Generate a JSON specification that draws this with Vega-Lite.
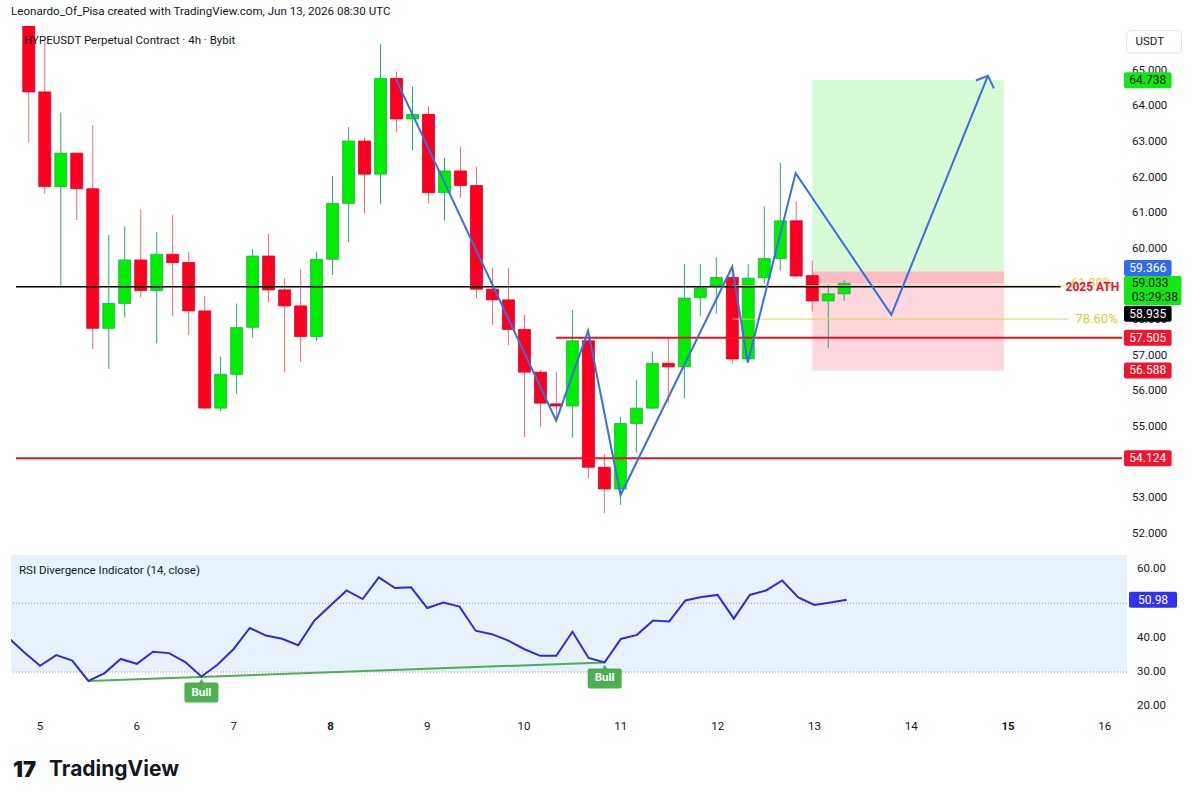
{
  "$schema": "https://vega.github.io/schema/vega-lite/v6.json",
  "background": "white",
  "padding": {"left": 10, "top": 6, "right": 0, "bottom": 0},
  "title": {"text": "Leonardo_Of_Pisa created with TradingView.com, Jun 13, 2026 08:30 UTC", "anchor": "start", "frame": "group", "fontSize": 11.6, "fontWeight": "normal", "color": "#131722", "font": "Roboto", "offset": 8},
  "config": {
    "view": {"stroke": null},
    "text": {"font": "Roboto"}
  },
  "spacing": 3,
  "bounds": "flush",
  "datasets": {
    "candles": [
      {"t": 4.833, "o": 66.6, "h": 66.9, "l": 63.0, "c": 64.41},
      {"t": 5.0, "o": 64.41, "h": 65.87, "l": 61.55, "c": 61.75},
      {"t": 5.167, "o": 61.75, "h": 63.83, "l": 58.9, "c": 62.69},
      {"t": 5.333, "o": 62.69, "h": 62.69, "l": 60.81, "c": 61.69},
      {"t": 5.5, "o": 61.69, "h": 63.48, "l": 57.19, "c": 57.77},
      {"t": 5.667, "o": 57.77, "h": 60.39, "l": 56.63, "c": 58.47},
      {"t": 5.833, "o": 58.47, "h": 60.63, "l": 58.07, "c": 59.69},
      {"t": 6.0, "o": 59.69, "h": 61.12, "l": 58.64, "c": 58.83},
      {"t": 6.167, "o": 58.83, "h": 60.47, "l": 57.35, "c": 59.85},
      {"t": 6.333, "o": 59.85, "h": 60.96, "l": 58.12, "c": 59.62},
      {"t": 6.5, "o": 59.62, "h": 59.92, "l": 57.58, "c": 58.26},
      {"t": 6.667, "o": 58.26, "h": 58.68, "l": 55.5, "c": 55.53},
      {"t": 6.833, "o": 55.53, "h": 56.97, "l": 55.43, "c": 56.48},
      {"t": 7.0, "o": 56.48, "h": 58.47, "l": 55.93, "c": 57.79},
      {"t": 7.167, "o": 57.8, "h": 59.99, "l": 57.51, "c": 59.8},
      {"t": 7.333, "o": 59.8, "h": 60.42, "l": 58.5, "c": 58.85},
      {"t": 7.5, "o": 58.85, "h": 59.18, "l": 56.54, "c": 58.4},
      {"t": 7.667, "o": 58.4, "h": 59.43, "l": 56.83, "c": 57.54},
      {"t": 7.833, "o": 57.54, "h": 59.92, "l": 57.42, "c": 59.71},
      {"t": 8.0, "o": 59.71, "h": 62.05, "l": 59.27, "c": 61.28},
      {"t": 8.167, "o": 61.28, "h": 63.42, "l": 60.19, "c": 63.03},
      {"t": 8.333, "o": 63.03, "h": 63.14, "l": 61.0, "c": 62.1},
      {"t": 8.5, "o": 62.1, "h": 65.76, "l": 61.26, "c": 64.79},
      {"t": 8.667, "o": 64.79, "h": 64.98, "l": 63.29, "c": 63.65},
      {"t": 8.833, "o": 63.65, "h": 64.56, "l": 62.76, "c": 63.78},
      {"t": 9.0, "o": 63.78, "h": 64.0, "l": 61.28, "c": 61.58},
      {"t": 9.167, "o": 61.58, "h": 62.55, "l": 60.8, "c": 62.19},
      {"t": 9.333, "o": 62.19, "h": 62.87, "l": 61.44, "c": 61.78},
      {"t": 9.5, "o": 61.78, "h": 62.31, "l": 58.62, "c": 58.87},
      {"t": 9.667, "o": 58.87, "h": 59.47, "l": 57.87, "c": 58.57},
      {"t": 9.833, "o": 58.57, "h": 59.46, "l": 57.3, "c": 57.74},
      {"t": 10.0, "o": 57.74, "h": 58.15, "l": 54.71, "c": 56.54},
      {"t": 10.167, "o": 56.54, "h": 56.6, "l": 55.01, "c": 55.67},
      {"t": 10.333, "o": 55.65, "h": 56.55, "l": 55.2, "c": 55.59},
      {"t": 10.5, "o": 55.59, "h": 58.29, "l": 54.71, "c": 57.42},
      {"t": 10.667, "o": 57.42, "h": 57.49, "l": 53.56, "c": 53.87},
      {"t": 10.833, "o": 53.87, "h": 54.24, "l": 52.58, "c": 53.26},
      {"t": 11.0, "o": 53.26, "h": 55.29, "l": 52.81, "c": 55.1},
      {"t": 11.167, "o": 55.1, "h": 56.32, "l": 54.28, "c": 55.53},
      {"t": 11.333, "o": 55.53, "h": 57.12, "l": 55.5, "c": 56.79},
      {"t": 11.5, "o": 56.79, "h": 57.51, "l": 55.68, "c": 56.69},
      {"t": 11.667, "o": 56.69, "h": 59.58, "l": 55.81, "c": 58.62},
      {"t": 11.833, "o": 58.63, "h": 59.58, "l": 58.12, "c": 58.9},
      {"t": 12.0, "o": 58.96, "h": 59.77, "l": 58.19, "c": 59.2},
      {"t": 12.167, "o": 59.2, "h": 59.46, "l": 56.77, "c": 56.91},
      {"t": 12.333, "o": 56.91, "h": 59.58, "l": 56.91, "c": 59.18},
      {"t": 12.5, "o": 59.19, "h": 61.19, "l": 59.02, "c": 59.73},
      {"t": 12.667, "o": 59.73, "h": 62.42, "l": 59.39, "c": 60.79},
      {"t": 12.833, "o": 60.79, "h": 61.33, "l": 59.22, "c": 59.24},
      {"t": 13.0, "o": 59.25, "h": 59.67, "l": 58.24, "c": 58.54},
      {"t": 13.167, "o": 58.54, "h": 59.01, "l": 57.21, "c": 58.74},
      {"t": 13.333, "o": 58.74, "h": 59.13, "l": 58.54, "c": 59.033}
    ],
    "rsi": [
      {"t": 4.667, "v": 40.1}, {"t": 4.833, "v": 35.8}, {"t": 5.0, "v": 31.8}, {"t": 5.167, "v": 34.9},
      {"t": 5.333, "v": 33.3}, {"t": 5.5, "v": 27.4}, {"t": 5.667, "v": 29.7}, {"t": 5.833, "v": 33.8},
      {"t": 6.0, "v": 32.4}, {"t": 6.167, "v": 35.9}, {"t": 6.333, "v": 35.5}, {"t": 6.5, "v": 32.9},
      {"t": 6.667, "v": 28.7}, {"t": 6.833, "v": 32.1}, {"t": 7.0, "v": 36.7}, {"t": 7.167, "v": 42.8},
      {"t": 7.333, "v": 40.6}, {"t": 7.5, "v": 39.65}, {"t": 7.667, "v": 37.8}, {"t": 7.833, "v": 44.9},
      {"t": 8.0, "v": 49.3}, {"t": 8.167, "v": 53.7}, {"t": 8.333, "v": 51.2}, {"t": 8.5, "v": 57.5},
      {"t": 8.667, "v": 54.4}, {"t": 8.833, "v": 54.6}, {"t": 9.0, "v": 48.6}, {"t": 9.167, "v": 50.2},
      {"t": 9.333, "v": 49.0}, {"t": 9.5, "v": 42.0}, {"t": 9.667, "v": 41.0}, {"t": 9.833, "v": 39.2},
      {"t": 10.0, "v": 36.7}, {"t": 10.167, "v": 34.7}, {"t": 10.333, "v": 34.7}, {"t": 10.5, "v": 41.7},
      {"t": 10.667, "v": 34.1}, {"t": 10.833, "v": 32.8}, {"t": 11.0, "v": 39.6}, {"t": 11.167, "v": 40.8},
      {"t": 11.333, "v": 45.0}, {"t": 11.5, "v": 44.7}, {"t": 11.667, "v": 50.8}, {"t": 11.833, "v": 51.8},
      {"t": 12.0, "v": 52.4}, {"t": 12.167, "v": 45.5}, {"t": 12.333, "v": 52.4}, {"t": 12.5, "v": 53.7},
      {"t": 12.667, "v": 56.6}, {"t": 12.833, "v": 51.7}, {"t": 13.0, "v": 49.5}, {"t": 13.167, "v": 50.2},
      {"t": 13.333, "v": 50.98}
    ],
    "zigzag": [
      {"i": 0, "t": 8.66, "p": 64.77}, {"i": 1, "t": 10.331, "p": 55.18}, {"i": 2, "t": 10.664, "p": 57.7},
      {"i": 3, "t": 11.002, "p": 53.09}, {"i": 4, "t": 12.166, "p": 59.5}, {"i": 5, "t": 12.328, "p": 56.81},
      {"i": 6, "t": 12.827, "p": 62.13}, {"i": 7, "t": 13.825, "p": 58.15}, {"i": 8, "t": 14.831, "p": 64.86}
    ],
    "arrow": [
      {"i": 0, "t": 14.706, "p": 64.73}, {"i": 1, "t": 14.831, "p": 64.86}, {"i": 2, "t": 14.894, "p": 64.51}
    ],
    "position": [
      {"t0": 13.0, "t1": 15.0, "target": 64.738, "entry": 59.366, "last": 59.033, "stop": 56.588}
    ],
    "levels": [
      {"kind": "fib", "p": 58.96, "from": 12.169, "to": 15.67},
      {"kind": "fib", "p": 58.03, "from": 12.169, "to": 15.67},
      {"kind": "black", "p": 58.935, "from": 4.7, "to": 15.589},
      {"kind": "red", "p": 57.505, "from": 10.331, "to": 16.229},
      {"kind": "red", "p": 54.124, "from": 4.7, "to": 16.229}
    ],
    "tags": [
      {"kind": "green", "p": 64.738, "label": "64.738"},
      {"kind": "blue", "p": 59.366, "label": "59.366"},
      {"kind": "live", "p": 59.033, "label": "59.033\n03:29:38"},
      {"kind": "black", "p": 58.935, "label": "58.935"},
      {"kind": "red", "p": 57.505, "label": "57.505"},
      {"kind": "red", "p": 56.588, "label": "56.588"},
      {"kind": "red", "p": 54.124, "label": "54.124"}
    ],
    "priceTicks": [
      {"p": 52}, {"p": 53}, {"p": 55}, {"p": 56}, {"p": 57}, {"p": 58},
      {"p": 60}, {"p": 61}, {"p": 62}, {"p": 63}, {"p": 64}, {"p": 65}
    ],
    "rsiTicks": [{"v": 20}, {"v": 30}, {"v": 40}, {"v": 60}],
    "days": [
      {"d": 5}, {"d": 6}, {"d": 7}, {"d": 8}, {"d": 9}, {"d": 10},
      {"d": 11}, {"d": 12}, {"d": 13}, {"d": 14}, {"d": 15}, {"d": 16}
    ],
    "bull": [
      {"t": 6.667, "v": 28.7}, {"t": 10.833, "v": 32.8}
    ],
    "divergence": [
      {"t": 5.5, "v": 27.4}, {"t": 10.833, "v": 32.8}
    ]
  },
  "vconcat": [
    {
      "width": 1116,
      "height": 526,
      "layer": [
        {
          "data": {"name": "position"},
          "layer": [
            {"mark": {"type": "rect", "color": "#d6fbd6", "clip": true},
             "encoding": {
               "x": {"field": "t0", "type": "quantitative", "scale": {"domain": [4.7, 16.229], "nice": false, "zero": false}, "axis": null},
               "x2": {"field": "t1"},
               "y": {"field": "target", "type": "quantitative", "scale": {"domain": [51.49, 66.26], "nice": false, "zero": false}, "axis": null},
               "y2": {"field": "entry"}}},
            {"mark": {"type": "rect", "color": "#fdd7db", "clip": true},
             "encoding": {
               "x": {"field": "t0", "type": "quantitative", "axis": null},
               "x2": {"field": "t1"},
               "y": {"field": "entry", "type": "quantitative", "axis": null},
               "y2": {"field": "stop"}}},
            {"mark": {"type": "rect", "color": "#fbbcc3", "clip": true},
             "encoding": {
               "x": {"field": "t0", "type": "quantitative", "axis": null},
               "x2": {"field": "t1"},
               "y": {"field": "entry", "type": "quantitative", "axis": null},
               "y2": {"field": "last"}}}
          ]
        },
        {
          "data": {"name": "candles"},
          "mark": {"type": "rule", "strokeWidth": 1, "clip": true},
          "encoding": {
            "x": {"field": "t", "type": "quantitative", "axis": null},
            "y": {"field": "l", "type": "quantitative", "axis": null},
            "y2": {"field": "h"},
            "color": {"condition": {"test": "datum.c >= datum.o", "value": "#2aa58f"}, "value": "#f06a7a"}
          }
        },
        {
          "data": {"name": "candles"},
          "mark": {"type": "bar", "width": 12, "strokeWidth": 0.8, "clip": true},
          "encoding": {
            "x": {"field": "t", "type": "quantitative", "axis": null},
            "y": {"field": "o", "type": "quantitative", "axis": null},
            "y2": {"field": "c"},
            "fill": {"condition": {"test": "datum.c >= datum.o", "value": "#00ee00"}, "value": "#fa0022"},
            "stroke": {"condition": {"test": "datum.c >= datum.o", "value": "#1fae4a"}, "value": "#e0001e"}
          }
        },
        {
          "data": {"name": "levels"},
          "transform": [{"filter": "datum.kind == 'fib'"}],
          "mark": {"type": "rule", "color": "#e0d84a", "strokeWidth": 1, "clip": true},
          "encoding": {
            "x": {"field": "from", "type": "quantitative", "axis": null},
            "x2": {"field": "to"},
            "y": {"field": "p", "type": "quantitative", "axis": null}
          }
        },
        {
          "data": {"name": "levels"},
          "transform": [{"filter": "datum.kind == 'black'"}],
          "mark": {"type": "rule", "color": "#000000", "strokeWidth": 1.5, "clip": true},
          "encoding": {
            "x": {"field": "from", "type": "quantitative", "axis": null},
            "x2": {"field": "to"},
            "y": {"field": "p", "type": "quantitative", "axis": null}
          }
        },
        {
          "data": {"name": "levels"},
          "transform": [{"filter": "datum.kind == 'red'"}],
          "mark": {"type": "rule", "color": "#f2101f", "strokeWidth": 2, "clip": true},
          "encoding": {
            "x": {"field": "from", "type": "quantitative", "axis": null},
            "x2": {"field": "to"},
            "y": {"field": "p", "type": "quantitative", "axis": null}
          }
        },
        {
          "data": {"name": "zigzag"},
          "mark": {"type": "line", "color": "#3b6fe0", "strokeWidth": 2, "clip": true},
          "encoding": {
            "x": {"field": "t", "type": "quantitative", "axis": null},
            "y": {"field": "p", "type": "quantitative", "axis": null},
            "order": {"field": "i"}
          }
        },
        {
          "data": {"name": "arrow"},
          "mark": {"type": "line", "color": "#3b6fe0", "strokeWidth": 2, "clip": true},
          "encoding": {
            "x": {"field": "t", "type": "quantitative", "axis": null},
            "y": {"field": "p", "type": "quantitative", "axis": null},
            "order": {"field": "i"}
          }
        },
        {
          "data": {"values": [{"note": "HYPEUSDT Perpetual Contract · 4h · Bybit"}]},
          "mark": {"type": "text", "align": "left", "baseline": "middle", "fontSize": 11.5, "color": "#131722"},
          "encoding": {
            "x": {"datum": 4.783, "type": "quantitative", "axis": null},
            "y": {"datum": 65.84, "type": "quantitative", "axis": null},
            "text": {"field": "note"}
          }
        },
        {
          "data": {"values": [{"note": "61.80%"}]},
          "mark": {"type": "text", "align": "left", "baseline": "middle", "fontSize": 12.5, "color": "#d8d040", "dy": -3},
          "encoding": {
            "x": {"datum": 15.7, "type": "quantitative", "axis": null},
            "y": {"datum": 58.96, "type": "quantitative", "axis": null},
            "text": {"field": "note"}
          }
        },
        {
          "data": {"values": [{"note": "2025 ATH"}]},
          "mark": {"type": "text", "align": "left", "baseline": "middle", "fontSize": 12, "fontWeight": "bold", "color": "#e8112d"},
          "encoding": {
            "x": {"datum": 15.64, "type": "quantitative", "axis": null},
            "y": {"datum": 58.935, "type": "quantitative", "axis": null},
            "text": {"field": "note"}
          }
        },
        {
          "data": {"values": [{"note": "78.60%"}]},
          "mark": {"type": "text", "align": "left", "baseline": "middle", "fontSize": 13, "color": "#d6cf3c"},
          "encoding": {
            "x": {"datum": 15.744, "type": "quantitative", "axis": null},
            "y": {"datum": 58.03, "type": "quantitative", "axis": null},
            "text": {"field": "note"}
          }
        },
        {
          "data": {"name": "priceTicks"},
          "mark": {"type": "text", "clip": false, "align": "left", "baseline": "middle", "fontSize": 11.5, "color": "#131722"},
          "encoding": {
            "x": {"datum": 16.333, "type": "quantitative", "axis": null},
            "y": {"field": "p", "type": "quantitative", "axis": null},
            "text": {"field": "p", "type": "quantitative", "format": ".3f"}
          }
        },
        {
          "data": {"name": "tags"},
          "transform": [{"filter": "datum.kind == 'green' || datum.kind == 'red'"}],
          "layer": [
            {"mark": {"type": "rect", "clip": false, "yOffset": -8, "y2Offset": 8, "cornerRadius": 2},
             "encoding": {
               "x": {"datum": 16.25, "type": "quantitative", "axis": null},
               "x2": {"datum": 16.746},
               "y": {"field": "p", "type": "quantitative", "axis": null},
               "y2": {"field": "p"},
               "color": {"field": "kind", "type": "nominal", "scale": {"domain": ["green", "red"], "range": ["#14e614", "#f2132d"]}, "legend": null}}},
            {"mark": {"type": "text", "clip": false, "fontSize": 12, "baseline": "middle"},
             "encoding": {
               "x": {"datum": 16.498, "type": "quantitative", "axis": null},
               "y": {"field": "p", "type": "quantitative", "axis": null},
               "text": {"field": "label"},
               "color": {"condition": {"test": "datum.kind == 'green'", "value": "#131722"}, "value": "#ffffff"}}}
          ]
        },
        {
          "data": {"name": "tags"},
          "transform": [{"filter": "datum.kind == 'blue'"}],
          "layer": [
            {"mark": {"type": "rect", "clip": false, "yOffset": -11.6, "y2Offset": 4.4, "cornerRadius": 2, "color": "#2f6bf0"},
             "encoding": {
               "x": {"datum": 16.25, "type": "quantitative", "axis": null},
               "x2": {"datum": 16.746},
               "y": {"field": "p", "type": "quantitative", "axis": null},
               "y2": {"field": "p"}}},
            {"mark": {"type": "text", "clip": false, "fontSize": 12, "baseline": "middle", "yOffset": -3.6, "color": "#ffffff"},
             "encoding": {
               "x": {"datum": 16.498, "type": "quantitative", "axis": null},
               "y": {"field": "p", "type": "quantitative", "axis": null},
               "text": {"field": "label"}}}
          ]
        },
        {
          "data": {"name": "tags"},
          "transform": [{"filter": "datum.kind == 'live'"}],
          "layer": [
            {"mark": {"type": "rect", "clip": false, "yOffset": -7.4, "y2Offset": 21.6, "cornerRadius": 2, "color": "#14e614"},
             "encoding": {
               "x": {"datum": 16.25, "type": "quantitative", "axis": null},
               "x2": {"datum": 16.849},
               "y": {"field": "p", "type": "quantitative", "axis": null},
               "y2": {"field": "p"}}},
            {"mark": {"type": "text", "clip": false, "fontSize": 12, "baseline": "middle", "align": "left", "lineBreak": "\n", "lineHeight": 14, "color": "#131722"},
             "encoding": {
               "x": {"datum": 16.33, "type": "quantitative", "axis": null},
               "y": {"field": "p", "type": "quantitative", "axis": null},
               "text": {"field": "label"}}}
          ]
        },
        {
          "data": {"name": "tags"},
          "transform": [{"filter": "datum.kind == 'black'"}],
          "layer": [
            {"mark": {"type": "rect", "clip": false, "yOffset": 19, "y2Offset": 35, "cornerRadius": 2, "color": "#000000"},
             "encoding": {
               "x": {"datum": 16.25, "type": "quantitative", "axis": null},
               "x2": {"datum": 16.746},
               "y": {"field": "p", "type": "quantitative", "axis": null},
               "y2": {"field": "p"}}},
            {"mark": {"type": "text", "clip": false, "fontSize": 12, "baseline": "middle", "yOffset": 27, "color": "#ffffff"},
             "encoding": {
               "x": {"datum": 16.498, "type": "quantitative", "axis": null},
               "y": {"field": "p", "type": "quantitative", "axis": null},
               "text": {"field": "label"}}}
          ]
        },
        {
          "data": {"values": [{"unit": "USDT"}]},
          "layer": [
            {"mark": {"type": "rect", "clip": false, "fill": "#ffffff", "stroke": "#e0e3eb", "strokeWidth": 1, "cornerRadius": 4},
             "encoding": {
               "x": {"datum": 16.278, "type": "quantitative", "axis": null},
               "x2": {"datum": 16.849},
               "y": {"datum": 66.13, "type": "quantitative", "axis": null},
               "y2": {"datum": 65.5}}},
            {"mark": {"type": "text", "clip": false, "fontSize": 11.5, "baseline": "middle", "align": "left", "color": "#131722"},
             "encoding": {
               "x": {"datum": 16.37, "type": "quantitative", "axis": null},
               "y": {"datum": 65.81, "type": "quantitative", "axis": null},
               "text": {"field": "unit"}}}
          ]
        }
      ]
    },
    {
      "width": 1116,
      "height": 158,
      "layer": [
        {
          "data": {"values": [{"zone": "band"}]},
          "mark": {"type": "rect", "color": "#e6f2fd", "clip": true},
          "encoding": {
            "x": {"datum": 4.7, "type": "quantitative", "axis": null, "scale": {"domain": [4.7, 16.229], "nice": false, "zero": false}},
            "x2": {"datum": 16.229},
            "y": {"datum": 30, "type": "quantitative", "axis": null, "scale": {"domain": [18.1, 64.0], "nice": false, "zero": false}},
            "y2": {"datum": 70}
          }
        },
        {
          "data": {"values": [{"lvl": 50}, {"lvl": 30}]},
          "mark": {"type": "rule", "color": "#9598a1", "strokeWidth": 1, "strokeDash": [1, 2]},
          "encoding": {
            "y": {"field": "lvl", "type": "quantitative", "axis": null}
          }
        },
        {
          "data": {"name": "divergence"},
          "mark": {"type": "line", "color": "#4caf50", "strokeWidth": 2, "clip": true},
          "encoding": {
            "x": {"field": "t", "type": "quantitative", "axis": null},
            "y": {"field": "v", "type": "quantitative", "axis": null}
          }
        },
        {
          "data": {"name": "rsi"},
          "mark": {"type": "line", "color": "#2d2dd8", "strokeWidth": 2, "clip": true},
          "encoding": {
            "x": {"field": "t", "type": "quantitative", "axis": null},
            "y": {"field": "v", "type": "quantitative", "axis": null}
          }
        },
        {
          "data": {"name": "bull"},
          "layer": [
            {"mark": {"type": "point", "shape": "triangle-up", "size": 40, "filled": true, "color": "#4caf50", "opacity": 1, "yOffset": 5},
             "encoding": {
               "x": {"field": "t", "type": "quantitative", "axis": null},
               "y": {"field": "v", "type": "quantitative", "axis": null}}},
            {"mark": {"type": "rect", "color": "#4caf50", "cornerRadius": 2, "xOffset": -17, "x2Offset": 17, "yOffset": 6, "y2Offset": 26},
             "encoding": {
               "x": {"field": "t", "type": "quantitative", "axis": null},
               "x2": {"field": "t"},
               "y": {"field": "v", "type": "quantitative", "axis": null},
               "y2": {"field": "v"}}},
            {"mark": {"type": "text", "color": "#ffffff", "fontSize": 11.5, "fontWeight": "bold", "baseline": "middle", "yOffset": 16},
             "encoding": {
               "x": {"field": "t", "type": "quantitative", "axis": null},
               "y": {"field": "v", "type": "quantitative", "axis": null},
               "text": {"value": "Bull"}}}
          ]
        },
        {
          "data": {"values": [{"note": "RSI Divergence Indicator (14, close)"}]},
          "mark": {"type": "text", "align": "left", "baseline": "middle", "fontSize": 11.5, "color": "#131722"},
          "encoding": {
            "x": {"datum": 4.783, "type": "quantitative", "axis": null},
            "y": {"datum": 59.4, "type": "quantitative", "axis": null},
            "text": {"field": "note"}
          }
        },
        {
          "data": {"name": "rsiTicks"},
          "mark": {"type": "text", "clip": false, "align": "left", "baseline": "middle", "fontSize": 11.5, "color": "#131722"},
          "encoding": {
            "x": {"datum": 16.333, "type": "quantitative", "axis": null},
            "y": {"field": "v", "type": "quantitative", "axis": null},
            "text": {"field": "v", "type": "quantitative", "format": ".2f"}
          }
        },
        {
          "data": {"name": "days"},
          "transform": [{"filter": "datum.d != 8 && datum.d != 15"}],
          "mark": {"type": "text", "clip": false, "baseline": "middle", "fontSize": 11.5, "color": "#131722"},
          "encoding": {
            "x": {"field": "d", "type": "quantitative", "axis": null},
            "y": {"datum": 14.07, "type": "quantitative", "axis": null},
            "text": {"field": "d", "type": "quantitative"}
          }
        },
        {
          "data": {"name": "days"},
          "transform": [{"filter": "datum.d == 8 || datum.d == 15"}],
          "mark": {"type": "text", "clip": false, "baseline": "middle", "fontSize": 11.5, "fontWeight": "bold", "color": "#131722"},
          "encoding": {
            "x": {"field": "d", "type": "quantitative", "axis": null},
            "y": {"datum": 14.07, "type": "quantitative", "axis": null},
            "text": {"field": "d", "type": "quantitative"}
          }
        },
        {
          "data": {"values": [{"v": 50.98, "label": "50.98"}]},
          "layer": [
            {"mark": {"type": "rect", "clip": false, "color": "#3131ee", "yOffset": -8, "y2Offset": 8, "cornerRadius": 2},
             "encoding": {
               "x": {"datum": 16.25, "type": "quantitative", "axis": null},
               "x2": {"datum": 16.746},
               "y": {"field": "v", "type": "quantitative", "axis": null},
               "y2": {"field": "v"}}},
            {"mark": {"type": "text", "clip": false, "color": "#ffffff", "fontSize": 12, "baseline": "middle"},
             "encoding": {
               "x": {"datum": 16.498, "type": "quantitative", "axis": null},
               "y": {"field": "v", "type": "quantitative", "axis": null},
               "text": {"field": "label"}}}
          ]
        },
        {
          "data": {"values": [{"brand": "TradingView", "icon": "17"}]},
          "layer": [
            {"mark": {"type": "text", "clip": false, "align": "left", "baseline": "middle", "font": "Inter", "fontSize": 22, "fontWeight": 900, "color": "#131722"},
             "encoding": {
               "x": {"datum": 4.721, "type": "quantitative", "axis": null},
               "y": {"datum": 1.57, "type": "quantitative", "axis": null},
               "text": {"field": "icon"}}},
            {"mark": {"type": "text", "clip": false, "align": "left", "baseline": "middle", "font": "Inter", "fontSize": 21, "fontWeight": "bold", "color": "#131722"},
             "encoding": {
               "x": {"datum": 5.093, "type": "quantitative", "axis": null},
               "y": {"datum": 1.57, "type": "quantitative", "axis": null},
               "text": {"field": "brand"}}}
          ]
        }
      ]
    }
  ]
}
